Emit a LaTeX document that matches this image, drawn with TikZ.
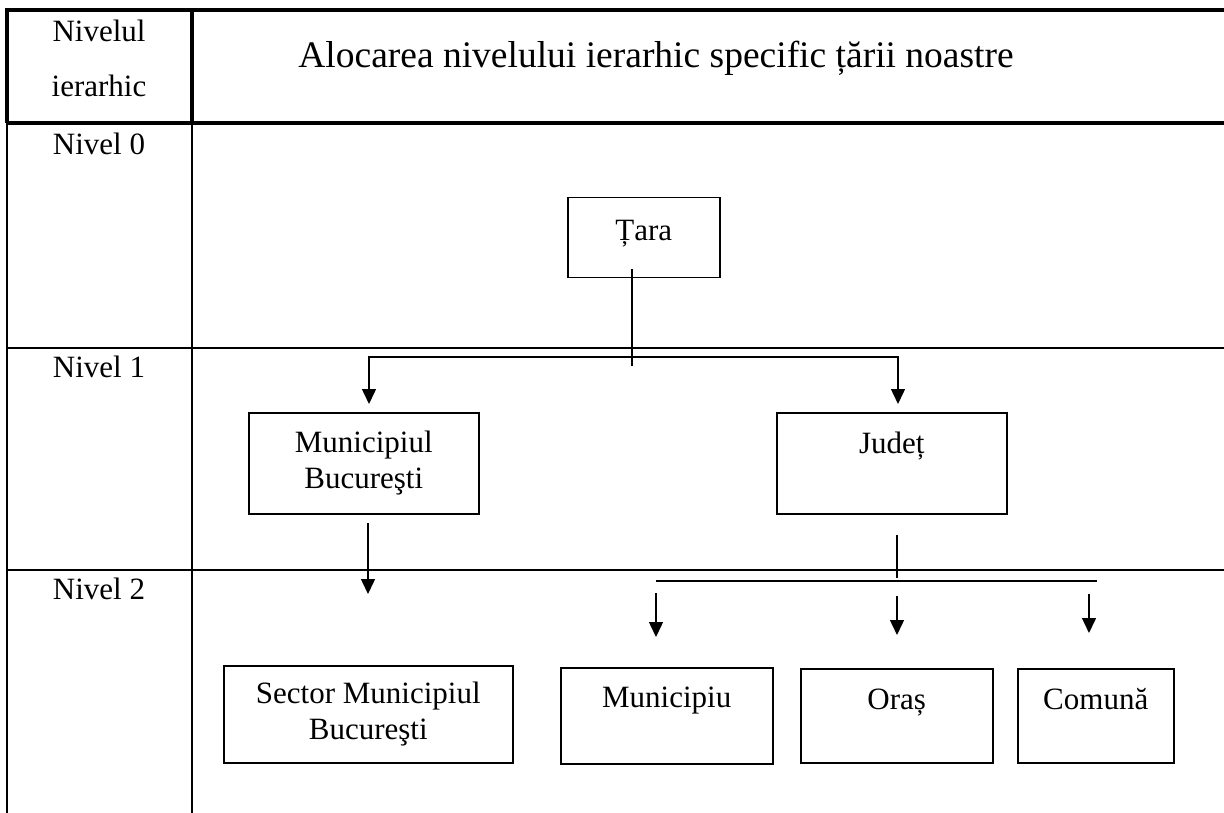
\documentclass[tikz,border=0pt]{standalone}
\usepackage{fontspec}
\setmainfont{Liberation Serif}
\usetikzlibrary{arrows.meta, positioning}

\begin{document}
\begin{tikzpicture}[x=1pt,y=-1pt,font=\fontsize{31}{36}\selectfont,
    rule thick/.style={line width=3.5pt},
    rule thin/.style={line width=2pt},
    link/.style={line width=1.5pt},
    arr/.style={line width=1.5pt,-{Triangle[width=14pt,length=15pt]}}]
  \tikzstyle{box}=[draw,line width=1.5pt,inner sep=0pt,anchor=north west,align=center]

  \useasboundingbox (0,0) rectangle (1224,813);

  % table grid
  \draw[rule thick] (5.25,10) -- (1224,10);
  \draw[rule thick] (7,10) -- (7,123);
  \draw[rule thick] (192,10) -- (192,123);
  \draw[rule thick] (7,123) -- (1224,123);
  \draw[rule thin]  (7,123) -- (7,813);
  \draw[rule thin]  (192,123) -- (192,813);
  \draw[rule thin]  (7,348) -- (1224,348);
  \draw[rule thin]  (7,570) -- (1224,570);

  % header
  \node[anchor=base] (hdr1)  at (99,42)  {Nivelul};
  \node[anchor=base] (hdr2)  at (99,97)  {ierarhic};
  \node[anchor=base,font=\fontsize{37.5}{42}\selectfont] (title) at (656,68)
    {Alocarea nivelului ierarhic specific țării noastre};

  \node[anchor=base] (lvl0) at (99,155) {Nivel 0};
  \node[anchor=base] (lvl1) at (99,377) {Nivel 1};
  \node[anchor=base] (lvl2) at (99,599) {Nivel 2};

  % boxes
  \node[box,minimum width=152pt,text height=43pt,text depth=37pt] (tara)   at (567,197)  {Țara};
  \node[box,minimum width=230pt,minimum height=101pt]             (mb)     at (248,412)  {Municipiul\\Bucureşti};
  \node[box,minimum width=230pt,text height=41pt,text depth=60pt] (judet)  at (776,412)  {Județ};
  \node[box,minimum width=289pt,minimum height=97pt]              (sector) at (223,665)  {Sector Municipiul\\Bucureşti};
  \node[box,minimum width=212pt,text height=40pt,text depth=56pt] (munic)  at (560,667)  {Municipiu};
  \node[box,minimum width=192pt,text height=41pt,text depth=53pt] (oras)   at (800,668)  {Oraș};
  \node[box,minimum width=156pt,text height=41pt,text depth=53pt] (comuna) at (1017,668) {Comună};

  % level 0 -> level 1
  \coordinate (tara tail) at (632,269);
  \coordinate (tara end)  at (632,366);
  \coordinate (bar0)      at (632,357);
  \coordinate (mb in)     at (369,404);
  \coordinate (judet in)  at (898,404);
  \draw[link] (tara tail) -- (tara end);
  \draw[arr] (bar0) -| (mb in);
  \draw[arr] (bar0) -| (judet in);

  % level 1 -> level 2
  \coordinate (mb out)    at (368,523);
  \coordinate (sector in) at (368,594);
  \draw[arr] (mb out) -- (sector in);

  \coordinate (judet out) at (897,535);
  \coordinate (judet end) at (897,578);
  \coordinate (bar1 l)    at (656,581);
  \coordinate (bar1 r)    at (1097,581);
  \draw[link] (judet out) -- (judet end);
  \draw[link] (bar1 l) -- (bar1 r);

  \draw[arr] (656,593) -- (656,637);
  \draw[arr] (897,596) -- (897,635);
  \draw[arr] (1089,594) -- (1089,633);
\end{tikzpicture}
\end{document}
